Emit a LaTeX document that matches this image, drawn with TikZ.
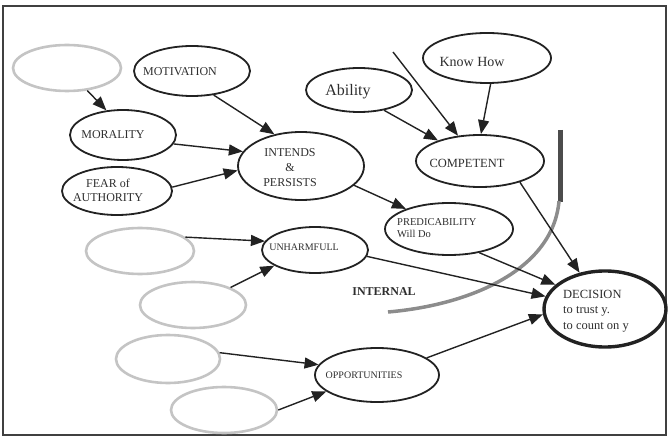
\documentclass[tikz,border=0pt]{standalone}
\usepackage{fontspec}
\setmainfont{Liberation Serif}
\usetikzlibrary{shapes.geometric,arrows.meta}

\definecolor{ink}{HTML}{222222}
\definecolor{txtink}{HTML}{2E2E2E}
\definecolor{ghost}{HTML}{C4C4C4}
\definecolor{bound}{HTML}{8C8C8C}

\tikzset{
  ell/.style={ellipse, draw=ink, line width=1.8pt, inner sep=0pt},
  ghostell/.style={ellipse, draw=ghost, line width=2.6pt, inner sep=0pt},
  lbl/.style={text=txtink, inner sep=0pt},
  link/.style={draw=ink, line width=1.4pt, -{Triangle[length=14pt,width=11pt]}},
}

\newcommand{\fs}[2]{\fontsize{#1}{#2}\selectfont}

\begin{document}
\begin{tikzpicture}[x=1pt,y=-1pt]
\useasboundingbox (0,0) rectangle (668,438);

% outer frame
\draw[draw=black!75, line width=1.8pt] (3,6) rectangle (666,435);

% ellipses
\node[ghostell, minimum width=108pt, minimum height=46pt] (g0) at (67,68) {};
\node[ell, minimum width=116pt, minimum height=50pt] (motiv) at (192,71) {};
\node[ell, minimum width=106pt, minimum height=50pt] (moral) at (123,135) {};
\node[ell, minimum width=110pt, minimum height=48pt] (fear) at (117,191) {};
\node[ell, minimum width=126pt, minimum height=68pt] (intend) at (301,166) {};
\node[ell, minimum width=106pt, minimum height=44pt] (ability) at (359,90) {};
\node[ell, minimum width=128pt, minimum height=50pt] (know) at (487,58) {};
\node[ell, minimum width=128pt, minimum height=52pt] (comp) at (480,161) {};
\node[ell, minimum width=128pt, minimum height=52pt] (pred) at (449,229) {};
\node[ell, minimum width=106pt, minimum height=46pt] (unharm) at (315,250) {};
\node[ell, minimum width=124pt, minimum height=54pt] (opp) at (377,375) {};
\node[ell, line width=3.4pt, minimum width=122pt, minimum height=76pt] (dec) at (605,309) {};
\node[ghostell, minimum width=108pt, minimum height=46pt] (g1) at (140,251) {};
\node[ghostell, minimum width=106pt, minimum height=46pt] (g2) at (193,305) {};
\node[ghostell, minimum width=104pt, minimum height=48pt] (g3) at (168,359) {};
\node[ghostell, minimum width=106pt, minimum height=46pt] (g4) at (224,410) {};

% labels
\node[lbl, font=\fs{12}{14}] (motivT) at (180,72) {MOTIVATION};
\node[lbl, font=\fs{12}{14}] (moralT) at (113,135) {MORALITY};
\node[lbl, font=\fs{12}{14}, align=center] (fearT) at (108,190) {FEAR of\\AUTHORITY};
\node[lbl, font=\fs{12}{15}, align=center] (intendT) at (290,168) {INTENDS\\\&\\PERSISTS};
\node[lbl, font=\fs{16}{18}] (abilityT) at (348,92) {Ability};
\node[lbl, font=\fs{14}{16}] (knowT) at (472,62) {Know How};
\node[lbl, font=\fs{12.5}{14}] (compT) at (467,163) {COMPETENT};
\node[lbl, font=\fs{10.5}{12}, align=left, anchor=west] (predT) at (397,228) {PREDICABILITY\\Will Do};
\node[lbl, font=\fs{10}{12}] (unharmT) at (304,247) {UNHARMFULL};
\node[lbl, font=\fs{10}{12}] (oppT) at (364,375) {OPPORTUNITIES};
\node[lbl, font=\fs{12.5}{15.5}, align=left, anchor=west] (decT) at (563,311) {DECISION\\to trust y.\\to count on y};
\node[lbl, font=\fs{12}{14}\bfseries] (internal) at (384,292) {INTERNAL};

% boundary between internal and external factors
\draw[draw=black!70, line width=5pt] (560,130) -- (560,202);
\draw[draw=bound, line width=3.5pt] (559,201) .. controls (553,270) and (470,305) .. (388,312);

% connectors
\coordinate (src) at (393,52);
\draw[link] (g0.-48) -- (moral.124);
\draw[link] (motiv.-48) -- (intend.130);
\draw[link] (moral.-10) -- (intend.166);
\draw[link] (fear.4) -- (intend.184);
\draw[link] (intend.-20) -- (pred.155);
\draw[link] (ability.-39) -- (comp.154);
\draw[link] (src) -- (comp.131);
\draw[link] (know.-82) -- (comp.88);
\draw[link] (comp.-28) -- (dec.125);
\draw[link] (pred.-38) -- (dec.154);
\draw[link] (unharm.-7) -- (dec.168);
\draw[link] (opp.19) -- (dec.185);
\draw[link] (g1.17) -- (unharm.170);
\draw[link] (g2.25) -- (unharm.201);
\draw[link] (g3.7) -- (opp.170);
\draw[link] (g4.0) -- (opp.198);
\end{tikzpicture}
\end{document}
